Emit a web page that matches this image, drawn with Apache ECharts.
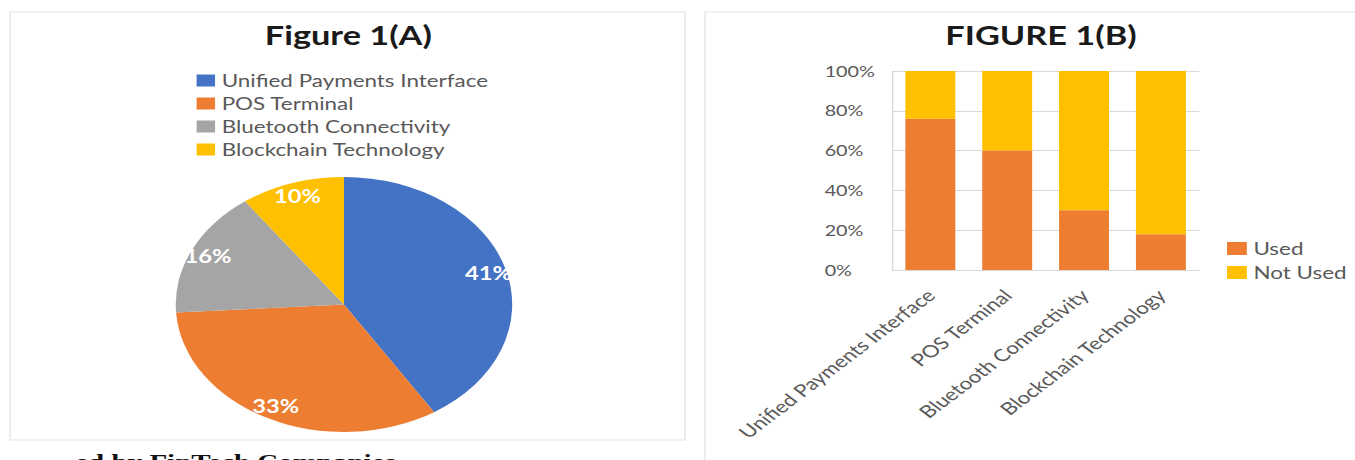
<!DOCTYPE html>
<html>
<head>
<meta charset="utf-8">
<script src="https://cdn.jsdelivr.net/npm/echarts@6/dist/echarts.min.js"></script>
<style>
  html, body { margin: 0; padding: 0; background: #ffffff; overflow: hidden; }
  #wrap { width: 1355px; height: 460px; overflow: hidden; position: relative; }
  #chart { width: 1027px; height: 460px; transform: scaleX(1.3194); transform-origin: 0 0; }
</style>
</head>
<body>
<div id="wrap"><div id="chart"></div></div>
<script>
// ---- Figure 1(A) data ----
const pieCategories = ['Unified Payments Interface', 'POS Terminal', 'Bluetooth Connectivity', 'Blockchain Technology'];
const pieValues = [41, 33, 16, 10];
const pieColors = ['#4472C4', '#ED7D31', '#A5A5A5', '#FFC000'];

// ---- Figure 1(B) data ----
const barCategories = ['Unified Payments Interface', 'POS Terminal', 'Bluetooth Connectivity', 'Blockchain Technology'];
const usedValues = [76, 60, 30, 18];
const notUsedValues = [24, 40, 70, 82];
const yTicks = [0, 20, 40, 60, 80, 100];

const FONT = 'Lato, "Open Sans", sans-serif';
const chart = echarts.init(document.getElementById('chart'), null, { renderer: 'svg' });

const pieData = pieCategories.map((n, i) => ({ name: n, value: pieValues[i], itemStyle: { color: pieColors[i] } }));

chart.setOption({
  backgroundColor: '#ffffff',
  animation: false,
  graphic: [
    { type: 'rect', shape: { x: 7.6, y: 12, width: 511.6, height: 428 }, style: { fill: '#ffffff', stroke: '#e3e3e3', lineWidth: 1 }, z: -10 },
    { type: 'rect', shape: { x: 534.3, y: 12, width: 520, height: 470 }, style: { fill: '#ffffff', stroke: '#e3e3e3', lineWidth: 1 }, z: -10 },
    { type: 'text', x: 57, y: 451, style: { text: 'ed by FinTech Companies', font: 'bold 22px "Liberation Serif", serif', fill: '#111111', textVerticalAlign: 'top', verticalAlign: 'top' } }
  ],
  title: [
    { text: 'Figure 1(A)', left: 259, top: 17, textAlign: 'center', textStyle: { fontFamily: FONT, fontWeight: 'bold', fontSize: 26, color: '#1a1a1a' } },
    { text: 'FIGURE 1(B)', left: 784, top: 17, textAlign: 'center', textStyle: { fontFamily: FONT, fontWeight: 'bold', fontSize: 26, color: '#1a1a1a' } }
  ],
  legend: [
    {
      data: pieCategories, orient: 'vertical', left: 144, top: 67,
      itemWidth: 14, itemHeight: 12, itemGap: 6, icon: 'rect',
      textStyle: { fontFamily: FONT, fontSize: 17, color: '#595959' }
    },
    {
      data: ['Used', 'Not Used'], orient: 'vertical', left: 925, top: 235,
      itemWidth: 15, itemHeight: 13, itemGap: 7, icon: 'rect',
      textStyle: { fontFamily: FONT, fontSize: 17, color: '#595959' }
    }
  ],
  grid: { left: 676, right: 118, top: 71, bottom: 190, containLabel: false },
  xAxis: {
    type: 'category', data: barCategories,
    axisTick: { show: false },
    axisLine: { lineStyle: { color: '#d9d9d9' } },
    axisLabel: { rotate: 45, margin: 22, interval: 0, fontFamily: FONT, fontSize: 17, color: '#595959' }
  },
  yAxis: {
    type: 'value', min: 0, max: 100, interval: 20,
    axisLine: { show: true, lineStyle: { color: '#d9d9d9' } },
    axisTick: { show: false },
    splitLine: { lineStyle: { color: '#d9d9d9' } },
    axisLabel: { formatter: '{value}%', align: 'left', margin: 51, fontFamily: FONT, fontSize: 15, color: '#595959' }
  },
  series: [
    {
      type: 'pie', name: 'Figure 1(A)', center: [260.7, 304.5], radius: 127.5,
      startAngle: 90, clockwise: true, silent: true,
      label: { show: false }, labelLine: { show: false },
      data: pieData
    },
    {
      type: 'pie', name: 'labels', center: [260.7, 304.5], radius: [0, 222],
      startAngle: 90, clockwise: true, silent: true, legendHoverLink: false,
      itemStyle: { color: 'rgba(0,0,0,0)', borderWidth: 0 },
      label: { show: true, position: 'inside', formatter: '{c}%', color: '#ffffff', fontFamily: FONT, fontWeight: 'bold', fontSize: 18 },
      labelLine: { show: false },
      data: pieCategories.map((n, i) => ({ name: n, value: pieValues[i], itemStyle: { color: 'rgba(0,0,0,0)' } }))
    },
    {
      type: 'bar', name: 'Used', stack: 'total', barWidth: '65%', data: usedValues,
      itemStyle: { color: '#ED7D31' }
    },
    {
      type: 'bar', name: 'Not Used', stack: 'total', barWidth: '65%', data: notUsedValues,
      itemStyle: { color: '#FFC000' }
    }
  ]
});
</script>
</body>
</html>
